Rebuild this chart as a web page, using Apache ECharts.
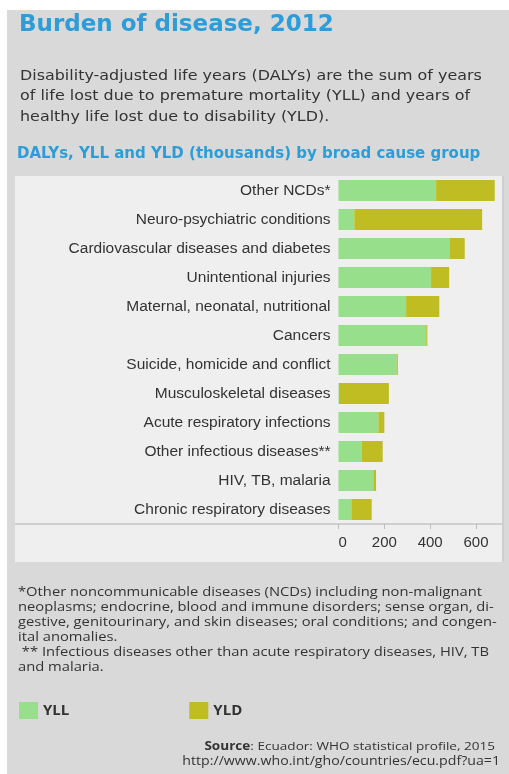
<!DOCTYPE html>
<html>
<head>
<meta charset="utf-8">
<script src="https://cdn.jsdelivr.net/npm/echarts@6/dist/echarts.min.js"></script>
<style>
  html, body { margin: 0; padding: 0; background: #fff; }
  #chart { width: 509px; height: 774px; }
</style>
</head>
<body>
<div id="chart"></div>
<script>
// cause groups, top to bottom
const categories = [
  'Other NCDs*',
  'Neuro-psychiatric conditions',
  'Cardiovascular diseases and diabetes',
  'Unintentional injuries',
  'Maternal, neonatal, nutritional',
  'Cancers',
  'Suicide, homicide and conflict',
  'Musculoskeletal diseases',
  'Acute respiratory infections',
  'Other infectious diseases**',
  'HIV, TB, malaria',
  'Chronic respiratory diseases'
];
// thousands
const yllValues = [426, 69, 484, 404, 295, 383, 254, 2, 174, 101, 152, 56];
const yldValues = [256, 558, 67, 79, 145, 5, 5, 218, 26, 92, 12, 89];
const xTicks = [0, 200, 400, 600];

const titleText = 'Burden of disease, 2012';
const introLines = [
  'Disability-adjusted life years (DALYs) are the sum of years',
  'of life lost due to premature mortality (YLL) and years of',
  'healthy life lost due to disability (YLD).'
];
const chartTitle = 'DALYs, YLL and YLD (thousands) by broad cause group';
const noteLines = [
  '*Other noncommunicable diseases (NCDs) including non-malignant',
  'neoplasms; endocrine, blood and immune disorders; sense organ, di-',
  'gestive, genitourinary, and skin diseases; oral conditions; and congen-',
  'ital anomalies.',
  ' ** Infectious diseases other than acute respiratory diseases, HIV, TB',
  'and malaria.'
];
const sourceLine = 'Ecuador: WHO statistical profile, 2015';
const sourceUrl = 'http://www.who.int/gho/countries/ecu.pdf?ua=1';

const BLUE = '#2c9dd8';
const GREEN = '#97df8a';
const OLIVE = '#bfbd22';
const TEXT = '#333';
// the printed page is a little stretched sideways
const STRETCH = 1.18;

const chart = echarts.init(document.getElementById('chart'), null, { renderer: 'canvas' });

chart.setOption({
  backgroundColor: '#fff',
  animation: false,
  title: [
    {
      text: titleText, left: 19, top: 14, padding: 0,
      textStyle: { color: BLUE, fontSize: 23, fontWeight: 'bold', fontFamily: 'DejaVu Sans' }
    },
    {
      text: chartTitle, left: 17, top: 147, padding: 0,
      textStyle: { color: BLUE, fontSize: 15, fontWeight: 'bold', fontFamily: 'DejaVu Sans' }
    }
  ],
  graphic: [
    { type: 'rect', z: -10, shape: { x: 7, y: 10, width: 502, height: 764 }, style: { fill: '#d9d9d9' } },
    { type: 'rect', z: -9, shape: { x: 15, y: 176, width: 489, height: 386 }, style: { fill: '#efefef' } },
    { type: 'line', z: -8, shape: { x1: 15, y1: 524, x2: 503, y2: 524 }, style: { stroke: '#cfcfcf', lineWidth: 2 } },
    { type: 'line', z: -8, shape: { x1: 503, y1: 176, x2: 503, y2: 562 }, style: { stroke: '#cfcfcf', lineWidth: 2 } },
    {
      type: 'text', x: 20, y: 66, scaleX: STRETCH,
      style: {
        text: introLines.join('\n'), fill: TEXT, fontSize: 13.5, fontFamily: 'DejaVu Sans',
        lineHeight: 20.5, verticalAlign: 'top'
      }
    },
    {
      type: 'text', x: 18, y: 584.5, scaleX: STRETCH,
      style: {
        text: noteLines.join('\n'), fill: TEXT, fontSize: 12.5, fontFamily: 'Open Sans',
        lineHeight: 15, verticalAlign: 'top'
      }
    },
    {
      type: 'text', x: 495, y: 747, scaleX: STRETCH,
      style: {
        text: '{b|Source}: ' + sourceLine, align: 'right', verticalAlign: 'middle',
        fill: TEXT, fontSize: 11.5, fontFamily: 'Open Sans',
        rich: { b: { fontWeight: 'bold', fontSize: 11.5, fontFamily: 'Open Sans', fill: TEXT } }
      }
    },
    {
      type: 'text', x: 500, y: 762, scaleX: STRETCH,
      style: { text: sourceUrl, align: 'right', verticalAlign: 'middle', fill: TEXT, fontSize: 12, fontFamily: 'Open Sans' }
    }
  ],
  legend: {
    left: 19, top: 702, padding: 0,
    itemWidth: 19, itemHeight: 17, itemGap: 120,
    icon: 'rect',
    textStyle: { color: TEXT, fontSize: 15, fontWeight: 'bold', fontFamily: 'Open Sans' },
    data: ['YLL', 'YLD']
  },
  grid: { left: 338.5, right: 6, top: 176, bottom: 250, containLabel: false },
  xAxis: {
    type: 'value', min: 0, max: 718, interval: 200,
    axisLine: { show: false },
    axisTick: { show: true, length: 5, lineStyle: { color: '#bbb' }, customValues: xTicks },
    axisLabel: { color: TEXT, fontSize: 15, fontFamily: 'Liberation Sans', margin: 11, customValues: xTicks, alignMinLabel: 'left' },
    splitLine: { show: false }
  },
  yAxis: {
    type: 'category', inverse: true, data: categories,
    axisLine: { show: false }, axisTick: { show: false },
    axisLabel: { color: TEXT, fontSize: 15.5, fontFamily: 'Liberation Sans', margin: 8 }
  },
  series: [
    { name: 'YLL', type: 'bar', stack: 'daly', data: yllValues, barWidth: 21, itemStyle: { color: GREEN } },
    { name: 'YLD', type: 'bar', stack: 'daly', data: yldValues, barWidth: 21, itemStyle: { color: OLIVE } }
  ]
});
</script>
</body>
</html>
